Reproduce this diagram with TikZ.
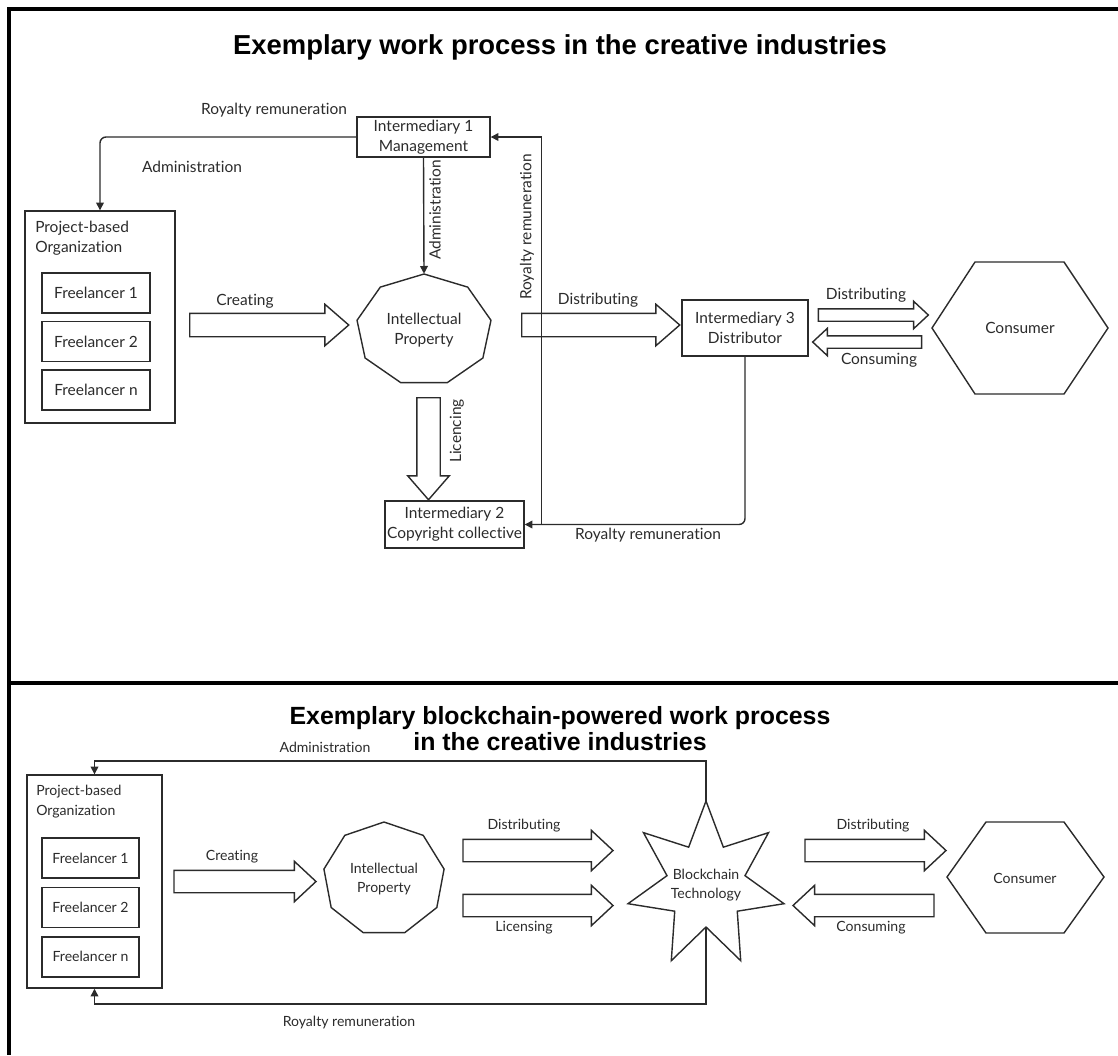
\documentclass[tikz,border=0pt]{standalone}
\usepackage{fontspec}
\setmainfont{Lato}[Ligatures=NoCommon, Contextuals=NoAlternate, RawFeature={-dlig}]
\newfontfamily\titlefont{Liberation Sans}
\usetikzlibrary{positioning,shapes.arrows,arrows.meta}

\newdimen\pix \pix=0.025cm
\definecolor{ink}{HTML}{2B2B2B}

\tikzset{
  frame/.style={line width=2.2pt, black},
  heading/.style={font=\titlefont\bfseries\fontsize{19.5}{19.5}\selectfont, align=center, text=black},
  headingb/.style={heading, font=\titlefont\bfseries\fontsize{17.7}{19}\selectfont},
  box/.style={draw=ink, line width=1pt, align=center, inner sep=0pt},
  fl/.style={box, minimum width=108\pix, minimum height=40\pix},
  flb/.style={box, minimum width=97\pix, minimum height=40\pix},
  outline/.style={draw=ink, line width=1pt, line join=miter},
  conn/.style={draw=ink, line width=1pt, -{Triangle[length=5.5pt,width=5.5pt]}},
  fat/.style={draw=ink, line width=1pt, single arrow, inner sep=11\pix,
    single arrow head extend=9\pix, single arrow tip angle=82},
  fatb/.style={fat, inner sep=10.5\pix, single arrow tip angle=86},
  slim/.style={fat, inner sep=5.5\pix, single arrow head extend=7.5\pix,
    single arrow tip angle=86},
}

\begin{document}
\begin{tikzpicture}[x=0.025cm, y=-0.025cm, font=\fontsize{11}{14}\selectfont, text=ink]
    \useasboundingbox (0,0) rectangle (1118,1055);

    % Outer frame and divider
    \draw[frame] (1118,9) -- (9,9) -- (9,1055);
    \draw[frame] (9,683) -- (1118,683);

    % ---------------- Upper panel ----------------
    \node[heading] (title1) at (560,47) {Exemplary work process in the creative industries};

    % Boxes
    \node[box, minimum width=133\pix, minimum height=40\pix] (int1) at (423.5,137) {Intermediary 1\\Management};
    \node[box, minimum width=150\pix, minimum height=212\pix] (pbo) at (100,317) {};
    \node[anchor=north west, align=left, inner sep=0pt] (pbotext) at (35,221) {Project-based\\Organization};
    \node[fl] (fl1) at (96,293) {Freelancer 1};
    \node[fl, below=7\pix of fl1] (fl2) {Freelancer 2};
    \node[fl, below=7\pix of fl2] (fl3) {Freelancer n};
    \node[box, minimum width=126\pix, minimum height=56\pix] (int3) at (745,328) {Intermediary 3\\Distributor};
    \node[box, minimum width=139\pix, minimum height=47\pix] (int2) at (454.5,524.5) {Intermediary 2\\Copyright collective};

    % Intellectual property (nonagon)
    \def\cx{424} \def\cy{330} \def\rx{68} \def\ry{56}
    \draw[outline] plot[samples at={0,...,8}] ({\cx+\rx*cos(90+40*\x)},{\cy-\ry*sin(90+40*\x)}) -- cycle;
    \node[minimum width=134\pix, minimum height=112\pix, align=center] (ip) at (\cx,\cy) {Intellectual\\Property};

    % Consumer (hexagon)
    \draw[outline] (932,328) -- (975,262) -- (1064,262) -- (1108,328) -- (1064,394) -- (975,394) -- cycle;
    \node (cons) at (1020,328) {Consumer};

    % Block arrows
    \node[fat, minimum height=159\pix] (creating) at (262.5,325) {};
    \node[fat, minimum height=158\pix] (distrib) at (594,325) {};
    \node[fat, minimum height=102\pix, rotate=-90] (licencing) at (428.5,442) {};
    \node[slim, minimum height=110\pix] (distrib2) at (870,315) {};
    \node[slim, minimum height=109\pix, rotate=180] (consuming) at (870.5,342) {};

    % Connectors
    \draw[conn, rounded corners=6\pix] (int1.west) -| (pbo.north);
    \draw[conn] (int1.south) -- (ip.north);
    \draw[conn, rounded corners=6\pix] (int3.south) |- (int2.east);
    \path (int2.east) -- ++(17,0) coordinate (rr);
    \draw[conn] (rr) |- (int1.east);

    % Labels
    \node (royA) at (274,110) {Royalty remuneration};
    \node (admA) at (192,167) {Administration};
    \node[rotate=90] (admB) at (435,210) {Administration};
    \node[rotate=90] (royB) at (527,227) {Royalty remuneration};
    \node (creA) at (245,301) {Creating};
    \node (disA) at (598,300) {Distributing};
    \node[rotate=90] (licA) at (457,431) {Licencing};
    \node (royC) at (648,535) {Royalty remuneration};
    \node (disB) at (866,295) {Distributing};
    \node (conA) at (879,360) {Consuming};

    % ---------------- Lower panel ----------------
    \begin{scope}[font=\fontsize{10}{14}\selectfont]
    \node[headingb] (title2) at (560,728.5) {Exemplary blockchain-powered work process\\in the creative industries};

    % Boxes
    \node[box, minimum width=135\pix, minimum height=213\pix] (pbo2) at (94.5,881.5) {};
    \node[anchor=north west, align=left, inner sep=0pt] (pbotext2) at (36,785) {Project-based\\Organization};
    \node[flb] (fl4) at (90.5,858) {Freelancer 1};
    \node[flb, below=8\pix of fl4] (fl5) {Freelancer 2};
    \node[flb, below=8\pix of fl5] (fl6) {Freelancer n};

    % Intellectual property (nonagon)
    \def\cx{384} \def\cy{879} \def\rx{61} \def\ry{57}
    \draw[outline] plot[samples at={0,...,8}] ({\cx+\rx*cos(90+40*\x)},{\cy-\ry*sin(90+40*\x)}) -- cycle;
    \node[align=center] (ip2) at (\cx,\cy) {Intellectual\\Property};

    % Blockchain technology (seven-pointed star)
    \def\cx{706} \def\cy{885}
    \draw[outline] plot[samples at={0,...,13}] ({\cx+(mod(\x,2)==0 ? 80 : 40)*cos(90+\x*360/14)},{\cy-(mod(\x,2)==0 ? 84 : 42)*sin(90+\x*360/14)}) -- cycle;
    \node[align=center] (bc) at (\cx,\cy) {Blockchain\\Technology};
    \path (bc) ++(0,-84) coordinate (bc-top);
    \path (bc) ++(0,42) coordinate (bc-bot);

    % Consumer (hexagon)
    \draw[outline] (947,877) -- (986,822) -- (1064,822) -- (1104,877) -- (1064,933) -- (986,933) -- cycle;
    \node (cons2) at (1025,878) {Consumer};

    % Block arrows
    \node[fatb, minimum height=142\pix] (creating2) at (239,881.5) {};
    \node[fatb, minimum height=150\pix] (distrib3) at (532,850.5) {};
    \node[fatb, minimum height=150\pix] (licensing) at (532,905.5) {};
    \node[fatb, minimum height=141\pix] (distrib4) at (869.5,850.5) {};
    \node[fatb, minimum height=141\pix, rotate=180] (consuming2) at (869.5,905.5) {};

    % Connectors
    \draw[conn] (bc-top) -- ++(0,-40) -| (pbo2.north);
    \draw[conn] (bc-bot) -- ++(0,77) -| (pbo2.south);

    % Labels
    \node (admC) at (325,747) {Administration};
    \node (royD) at (349,1023) {Royalty remuneration};
    \node (creB) at (232,857) {Creating};
    \node (disC) at (524,826) {Distributing};
    \node (licB) at (524,928) {Licensing};
    \node (disD) at (873,826) {Distributing};
    \node (conB) at (871,928) {Consuming};
    \end{scope}
\end{tikzpicture}
\end{document}
